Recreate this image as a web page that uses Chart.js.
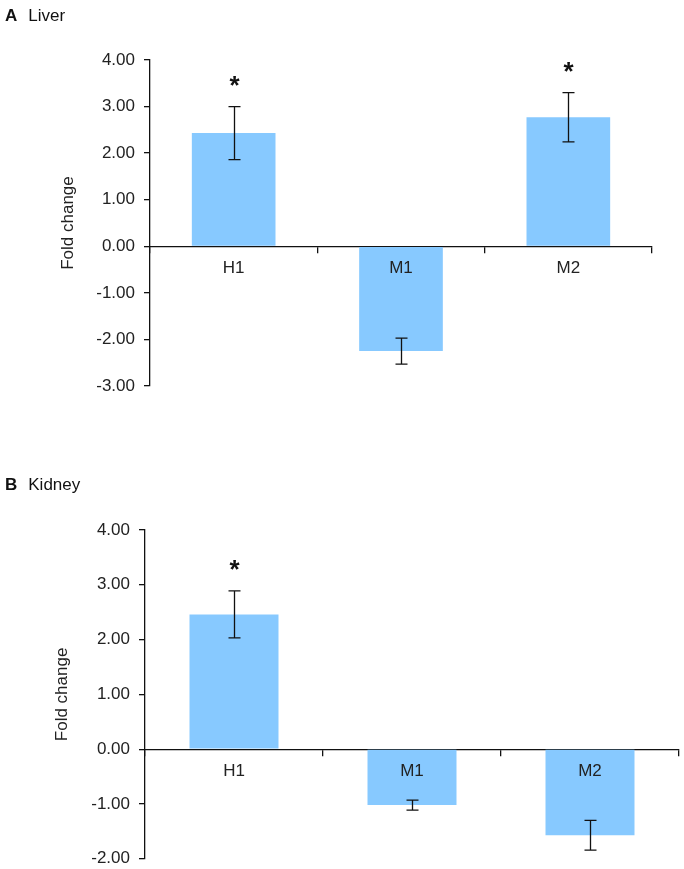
<!DOCTYPE html>
<html>
<head>
<meta charset="utf-8">
<script src="https://cdn.jsdelivr.net/npm/chart.js@4"></script>
<style>
  body { margin: 0; background: #fff; width: 684px; height: 869px; position: relative; overflow: hidden; font-family: "Liberation Sans", Arial, sans-serif; color: #111; }
  canvas { position: absolute; left: 0; }
  .ttl { position: absolute; left: 5px; font-size: 17px; line-height: 20px; }
  .ttl b { margin-right: 11px; }
</style>
</head>
<body>
<canvas id="liverChart" width="684" height="436" style="top:0"></canvas>
<canvas id="kidneyChart" width="684" height="444" style="top:434px"></canvas>
<div class="ttl" style="top:6px"><b>A</b>Liver</div>
<div class="ttl" style="top:475px"><b>B</b>Kidney</div>
<script>
const groups = ["H1", "M1", "M2"];

const liverFold = [2.43, -2.25, 2.77];
const liverErr = [0.57, 0.28, 0.53];
const liverSig = [true, false, true];
const liverRange = [-3, 4];

const kidneyFold = [2.46, -1.02, -1.57];
const kidneyErr = [0.43, 0.09, 0.27];
const kidneySig = [true, false, false];
const kidneyRange = [-2, 4];

const barColour = "#87c9ff";
const ink = "#111";
const textFont = { family: "Liberation Sans", size: 17 };

// error whiskers + significance stars, placed through the y scale
const errorBars = {
    id: "errorBars",
    afterDatasetsDraw(chart, args, opts) {
        const ctx = chart.ctx;
        const y = chart.scales.y;
        const meta = chart.getDatasetMeta(0);
        ctx.save();
        ctx.strokeStyle = ink;
        ctx.lineWidth = 1.3;
        meta.data.forEach((bar, i) => {
            const v = opts.values[i], e = opts.errors[i];
            const top = y.getPixelForValue(v + e);
            const bot = y.getPixelForValue(v - e);
            const x = Math.round(bar.x) + 0.5;
            ctx.beginPath();
            ctx.moveTo(x, top); ctx.lineTo(x, bot);
            ctx.moveTo(x - 6, top); ctx.lineTo(x + 6, top);
            ctx.moveTo(x - 6, bot); ctx.lineTo(x + 6, bot);
            ctx.stroke();
            if (opts.sig[i]) {
                ctx.fillStyle = ink;
                ctx.font = "bold 26px 'Liberation Sans'";
                ctx.textAlign = "center";
                ctx.textBaseline = "middle";
                ctx.fillText("*", x, top - 20);
            }
        });
        ctx.restore();
    }
};

function makeChart(id, values, errors, sig, range, pad, axisWidth, titleX) {
    return new Chart(document.getElementById(id), {
        type: "bar",
        data: {
            labels: groups,
            datasets: [{
                data: values,
                backgroundColor: barColour,
                borderWidth: 0,
                categoryPercentage: 1,
                barPercentage: 0.5
            }]
        },
        options: {
            responsive: false,
            animation: false,
            devicePixelRatio: 1,
            layout: { padding: pad },
            plugins: {
                legend: { display: false },
                tooltip: { enabled: false },
                errorBars: { values: values, errors: errors, sig: sig }
            },
            scales: {
                x: {
                    position: { y: 0 },
                    offset: true,
                    border: { display: true, color: ink, width: 1.3 },
                    grid: { offset: true, drawOnChartArea: false, color: ink, tickLength: 6, lineWidth: 1.3 },
                    ticks: { z: 1, color: "#222", padding: 6, font: textFont }
                },
                y: {
                    min: range[0],
                    max: range[1],
                    afterFit: s => { s.width = axisWidth; },
                    border: { display: true, color: ink, width: 1.3 },
                    grid: { drawOnChartArea: false, color: ink, tickLength: 6, lineWidth: 1.3 },
                    ticks: {
                        stepSize: 1,
                        color: "#222",
                        padding: 9,
                        font: textFont,
                        callback: v => v.toFixed(2)
                    },
                    title: {
                        display: true,
                        text: "Fold change",
                        color: "#222",
                        font: textFont,
                        padding: { top: titleX, bottom: 0 }
                    }
                }
            }
        },
        plugins: [errorBars]
    });
}

makeChart("liverChart", liverFold, liverErr, liverSig, liverRange,
    { left: 0, right: 32, top: 60, bottom: 50 }, 150, 58);
makeChart("kidneyChart", kidneyFold, kidneyErr, kidneySig, kidneyRange,
    { left: 0, right: 5, top: 96, bottom: 11 }, 145, 52);
</script>
</body>
</html>
